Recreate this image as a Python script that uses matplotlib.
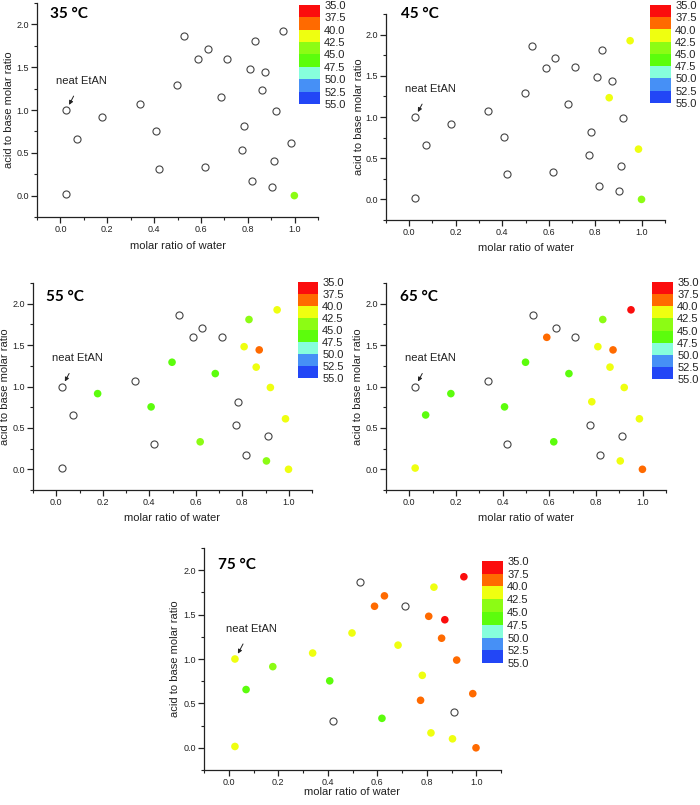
import numpy as np
import matplotlib
matplotlib.use("Agg")
import matplotlib.pyplot as plt
from matplotlib.colors import ListedColormap, BoundaryNorm
from matplotlib.cm import ScalarMappable

plt.rcParams['font.family'] = ['Liberation Sans', 'DejaVu Sans']

# ---------------- data ----------------
x_water = [0.025, 0.025, 0.07, 0.178, 0.339, 0.408, 0.42, 0.498, 0.529, 0.589,
           0.619, 0.629, 0.684, 0.711, 0.775, 0.782, 0.808, 0.817, 0.829, 0.86,
           0.873, 0.904, 0.912, 0.921, 0.95, 0.986, 0.999]
y_ratio = [1.00, 0.015, 0.656, 0.914, 1.067, 0.754, 0.305, 1.293, 1.867, 1.594,
           0.332, 1.711, 1.156, 1.601, 0.535, 0.816, 1.481, 0.168, 1.809, 1.234,
           1.442, 0.101, 0.406, 0.988, 1.926, 0.61, 0.0]
n = np.nan
# values (colour-scale temperature) per measuring temperature; nan = open circle
vals_35 = [n, n, n, n, n, n, n, n, n, n, n, n, n, n, n, n, n, n, n, n, n, n, n, n, n, n, 44]
vals_45 = [n, n, n, n, n, n, n, n, n, n, n, n, n, n, n, n, n, n, n, 41, n, n, n, n, 41, 41, 44]
vals_55 = [n, n, n, 46, n, 46, n, 46, n, n, 44, n, 46, n, n, n, 41, n, 44, 41, 39, 44, n, 41, 41, 41, 41]
vals_65 = [n, 41, 46, 46, n, 46, n, 46, n, 39, 46, n, 46, n, n, 41, 41, n, 44, 41, 39, 41, n, 41, 36, 41, 39]
vals_75 = [41, 41, 46, 44, 41, 46, n, 41, n, 39, 46, 39, 41, n, 39, 41, 39, 41, 41, 39, 36, 41, n, 39, 36, 39, 39]
panel_titles = ["35 \u00b0C", "45 \u00b0C", "55 \u00b0C", "65 \u00b0C", "75 \u00b0C"]
panel_vals = [vals_35, vals_45, vals_55, vals_65, vals_75]
cbar_bounds = [35.0, 37.5, 40.0, 42.5, 45.0, 47.5, 50.0, 52.5, 55.0]
cbar_colors = ['#fb0d0d', '#ff6a00', '#efff10', '#8cfc14', '#5cfd0c',
               '#86fedc', '#4690f6', '#2246f6']

cmap = ListedColormap(cbar_colors)
norm = BoundaryNorm(cbar_bounds, cmap.N)

W, H = 700, 805
fig = plt.figure(figsize=(W / 100, H / 100), dpi=100)

def rect(l, t, r, b):
    return [l / W, 1 - b / H, (r - l) / W, (b - t) / H]

# pixel layouts: axes (l, t, r, b), colorbar (l, t, r, b), title (x, y),
# ylabel offset left of spine, xlabel offset below spine
layouts = [
    ((37, 3, 318, 217), (299, 5, 320, 104), (50, 14), 28, 29),
    ((386, 14, 665, 220), (650, 5, 671, 103), (401, 14), 27, 28),
    ((33, 283, 312, 490), (298, 282, 318, 378), (46, 297), 28, 28),
    ((386, 283, 666, 490), (652, 282, 673, 379), (400, 297), 28, 28),
    ((204, 548, 501, 770), (482, 561, 503, 663), (218, 565), 29, 22),
]

for title, vals, (arect, crect, tpos, yoff, xoff) in zip(panel_titles, panel_vals, layouts):
    ax = fig.add_axes(rect(*arect))
    ax.set_xlim(-0.1, 1.1)
    ax.set_ylim(-0.25, 2.25)
    for s in ['top', 'right']:
        ax.spines[s].set_visible(False)
    for s in ['left', 'bottom']:
        ax.spines[s].set_color('#222222')
        ax.spines[s].set_linewidth(0.9)
    ax.set_xticks([0.0, 0.2, 0.4, 0.6, 0.8, 1.0])
    ax.set_xticks(np.arange(-0.1, 1.11, 0.2), minor=True)
    ax.set_yticks([0.0, 0.5, 1.0, 1.5, 2.0])
    ax.set_yticks([-0.25, 0.25, 0.75, 1.25, 1.75, 2.25], minor=True)
    ax.xaxis.set_major_formatter(matplotlib.ticker.FormatStrFormatter('%.1f'))
    ax.yaxis.set_major_formatter(matplotlib.ticker.FormatStrFormatter('%.1f'))
    ax.tick_params(which='major', direction='out', length=4, width=0.9,
                   labelsize=6.5, colors='#222222', pad=2)
    ax.tick_params(which='minor', direction='out', length=2, width=0.8, colors='#222222')
    ax.set_xlabel('molar ratio of water', fontsize=8, color='#222222')
    ax.set_ylabel('acid to base molar ratio', fontsize=8, color='#222222')
    l, t, r, b = arect
    ax.xaxis.set_label_coords(0.5, -xoff / (b - t))
    ax.yaxis.set_label_coords(-yoff / (r - l), 0.5)
    ax.xaxis.label.set_verticalalignment('center')
    ax.yaxis.label.set_verticalalignment('center')

    v = np.array(vals, dtype=float)
    xs = np.array(x_water)
    ys = np.array(y_ratio)
    empty = np.isnan(v)
    ax.scatter(xs[empty], ys[empty], s=26, facecolors='white',
               edgecolors='#444444', linewidths=0.8, zorder=3)
    ax.scatter(xs[~empty], ys[~empty], s=30, c=v[~empty], cmap=cmap, norm=norm,
               edgecolors='none', zorder=3)

    ax.annotate('neat EtAN', xy=(x_water[0] + 0.012, y_ratio[0] + 0.06),
                xytext=(0.09, 1.34), ha='center', va='center', fontsize=8,
                color='#222222',
                arrowprops=dict(arrowstyle='-|>', color='#222222', lw=0.7,
                                mutation_scale=6, shrinkA=6, shrinkB=0))

    fig.text(tpos[0] / W, 1 - tpos[1] / H, title, fontsize=11, fontweight='bold',
             family=['Lato', 'DejaVu Sans'], ha='left', va='center', color='black')

    cax = fig.add_axes(rect(*crect))
    cb = fig.colorbar(ScalarMappable(norm=norm, cmap=cmap), cax=cax,
                      ticks=cbar_bounds, spacing='uniform')
    cb.outline.set_visible(False)
    cax.invert_yaxis()
    cax.tick_params(length=0, labelsize=8, pad=3, colors='#222222')
    cax.yaxis.set_major_formatter(matplotlib.ticker.FormatStrFormatter('%.1f'))

fig.savefig('out.png', dpi=100)
